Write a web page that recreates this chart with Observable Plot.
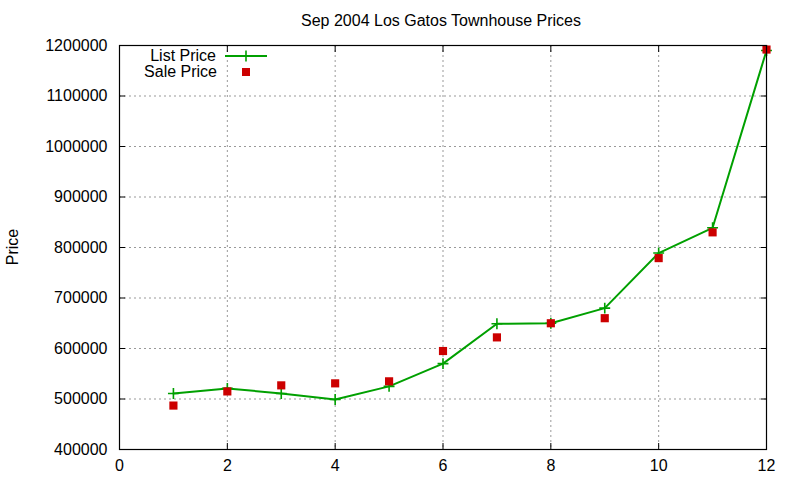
<!DOCTYPE html>
<html>
<head>
<meta charset="utf-8">
<script src="https://cdn.jsdelivr.net/npm/d3@7"></script>
<script src="https://cdn.jsdelivr.net/npm/@observablehq/plot@0.6"></script>
<style>
  body { margin: 0; background: #fff; }
  svg { font-family: "Liberation Sans", Arial, sans-serif; }
</style>
</head>
<body>
<div id="chart"></div>
<script>
const months = [1, 2, 3, 4, 5, 6, 7, 8, 9, 10, 11, 12];
const listPrice = [511000, 521000, 511000, 499000, 525000, 570000, 649000, 650000, 680000, 789000, 839000, 1190000];
const salePrice = [487000, 515000, 527000, 531000, 535000, 595000, 622000, 650000, 660000, 779000, 830000, 1192000];
const xTicks = [0, 2, 4, 6, 8, 10, 12];
const yTicks = [400000, 500000, 600000, 700000, 800000, 900000, 1000000, 1100000, 1200000];

const listData = months.map((m, i) => ({month: m, price: listPrice[i]}));
const saleData = months.map((m, i) => ({month: m, price: salePrice[i]}));

const green = "#00a000";
const red = "#cc0000";

const chart = Plot.plot({
  width: 800,
  height: 480,
  marginLeft: 119,
  marginRight: 34,
  marginTop: 45,
  marginBottom: 31,
  style: {fontSize: "16px", fontFamily: "Liberation Sans, Arial, sans-serif", color: "#000", background: "#fff"},
  x: {domain: [0, 12]},
  y: {domain: [400000, 1200000]},
  marks: [
    Plot.gridX(xTicks.slice(1, -1), {stroke: "#999", strokeOpacity: 1, strokeDasharray: "2,3"}),
    Plot.gridY(yTicks.slice(1, -1), {stroke: "#999", strokeOpacity: 1, strokeDasharray: "2,3"}),
    Plot.axisX(xTicks, {tickSize: -6, tickPadding: 16, tickFormat: d => String(d), label: null, fontSize: 16, stroke: "#000"}),
    Plot.axisX(xTicks, {anchor: "top", tickSize: -6, text: null, label: null}),
    Plot.axisY(yTicks, {tickSize: -6, tickPadding: 18, tickFormat: d => String(d), label: null, fontSize: 16}),
    Plot.axisY(yTicks, {anchor: "right", tickSize: -6, text: null, label: null}),
    Plot.line(listData, {x: "month", y: "price", stroke: green, strokeWidth: 2}),
    Plot.dot(listData, {x: "month", y: "price", symbol: "plus", stroke: green, strokeWidth: 1.6, r: 3.6}),
    Plot.dot(saleData, {x: "month", y: "price", symbol: "square", fill: red, r: 4.6}),
    Plot.frame({stroke: "#000", strokeWidth: 1.2})
  ]
});

const svg = d3.select(chart);
svg.append("text")
  .attr("x", 441).attr("y", 26)
  .attr("text-anchor", "middle")
  .attr("font-size", 16)
  .attr("fill", "#000")
  .text("Sep 2004 Los Gatos Townhouse Prices");
svg.append("text")
  .attr("transform", "translate(18,247) rotate(-90)")
  .attr("text-anchor", "middle")
  .attr("font-size", 16)
  .attr("fill", "#000")
  .text("Price");

const lg = svg.append("g");
lg.append("text").attr("x", 216).attr("y", 61).attr("text-anchor", "end").attr("font-size", 16).attr("fill", "#000").text("List Price");
lg.append("text").attr("x", 217).attr("y", 77).attr("text-anchor", "end").attr("font-size", 16).attr("fill", "#000").text("Sale Price");
lg.append("line").attr("x1", 225).attr("x2", 267).attr("y1", 56).attr("y2", 56).attr("stroke", green).attr("stroke-width", 2);
lg.append("path").attr("d", d3.symbol(d3.symbolPlus, Math.PI * 3.6 * 3.6)()).attr("transform", "translate(246,56)").attr("stroke", green).attr("stroke-width", 1.6).attr("fill", "none");
lg.append("rect").attr("x", 242).attr("y", 68).attr("width", 8).attr("height", 8).attr("fill", red);

document.getElementById("chart").appendChild(chart);
</script>
</body>
</html>
